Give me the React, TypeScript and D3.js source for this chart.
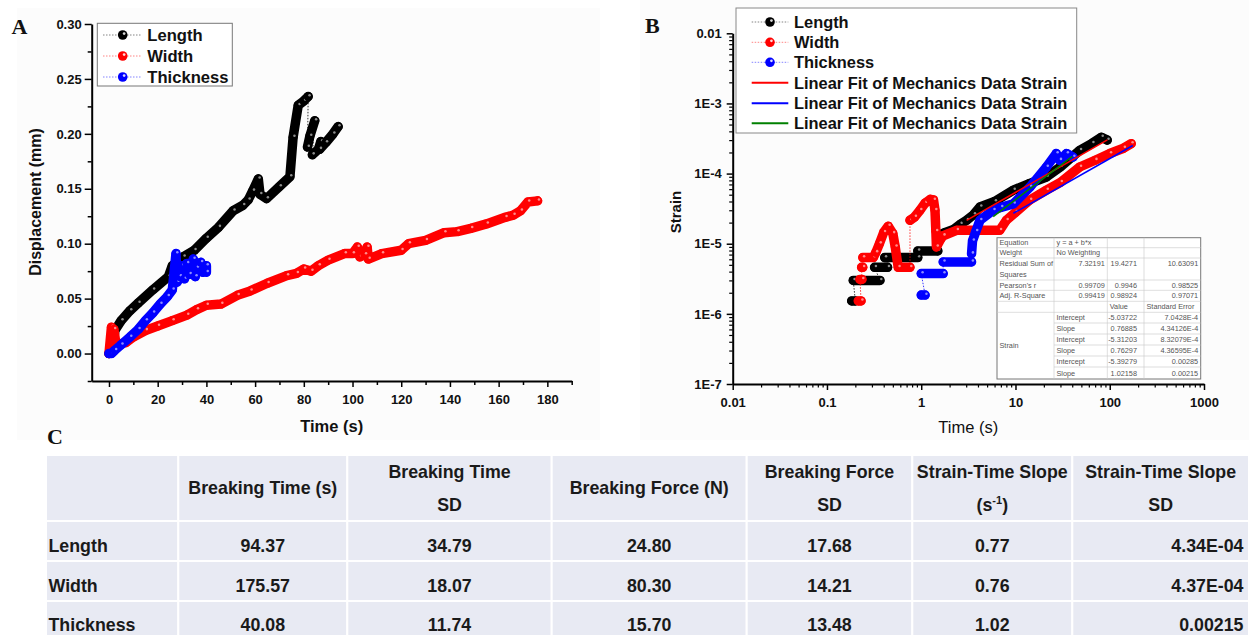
import * as d3 from "d3";
import { useEffect, useRef } from "react";

const SANS = "'Liberation Sans', Arial, sans-serif";
const SERIF = "'Liberation Serif', 'Times New Roman', serif";

type Pt = [number, number] | null;

const seriesNames = ["Length", "Width", "Thickness"];
const seriesColors = ["#000000", "#ff0000", "#0000ff"];
const fitColors = ["#ff0000", "#0000ff", "#008000"];

// panel A: time (s) vs displacement (mm); null = gap between bands
const dispLength: Pt[] = [
  [0, 0], [1.5, 0.004], [2.4, 0.021], [5, 0.03], [8.6, 0.039], [12, 0.046], [18, 0.058],
  [24.4, 0.07], [26, 0.08], [30.5, 0.088], [35, 0.094], [40, 0.105], [45, 0.115], [51, 0.13],
  [55, 0.135], [57.2, 0.14], [59, 0.148], [61.3, 0.159], [62, 0.145], [64.7, 0.141], [70, 0.152],
  [74.3, 0.161], [75.6, 0.197], [77.7, 0.226], [80, 0.23], [81.8, 0.234], null,
  [81.5, 0.188], [82.5, 0.198], [84.5, 0.212], null,
  [83.5, 0.181], [86, 0.186], [87, 0.193], [86.5, 0.186], [89, 0.192], [92, 0.2], [94.1, 0.2066],
];
const dispWidth: Pt[] = [
  [0, 0], [1, 0.024], [1.5, 0.004], [2, 0.022], [3, 0.007], [5, 0.009], [7, 0.01], [10, 0.015],
  [15, 0.021], [20, 0.025], [26, 0.03], [32, 0.035], [36, 0.04], [40, 0.044], [46, 0.045],
  [52.7, 0.053], [58, 0.057], [65, 0.064], [73, 0.071], [77, 0.073], [80, 0.077], [83, 0.075],
  [86, 0.08], [90, 0.085], [96.7, 0.091], [100, 0.091], [102, 0.097], [103, 0.088], [105, 0.09],
  [106, 0.097], [106.5, 0.086], [112, 0.091], [120, 0.094], [123, 0.1], [130, 0.103],
  [137.6, 0.11], [143, 0.111], [148.6, 0.114], [155, 0.118], [162.7, 0.124], [166, 0.126],
  [169, 0.13], [172, 0.138], [176, 0.139],
];
const dispThickness: Pt[] = [
  [0, 0], [1, 0], [2.4, 0.003], [5, 0.008], [8.6, 0.015], [12, 0.022], [15, 0.03], [18, 0.037],
  [21, 0.045], [24, 0.052], [26, 0.058], [27.5, 0.091], [28, 0.065], [29, 0.07], [30, 0.08],
  [31, 0.068], [32, 0.082], [33, 0.072], [34.6, 0.086], [35.4, 0.07], [36, 0.078], [37.7, 0.083],
  [38.5, 0.074], [40, 0.08], [40, 0.074],
];

// panel B: time (s) vs strain, log-log
const strainLength: Pt[] = [
  [0.183, 1.53e-6], [0.2, 1.53e-6], null,
  [0.19, 3.0e-6], [0.365, 3.0e-6], null,
  [0.32, 4.6e-6], [0.44, 4.6e-6], null,
  [0.41, 6.35e-6], [0.92, 6.35e-6], null,
  [0.92, 7.9e-6], [1.5, 7.9e-6], null,
  [1.5, 1.3e-5], [1.8, 1.45e-5], [2.2, 1.6e-5], [2.6, 1.9e-5], [3.03, 2.16e-5], [3.6, 2.6e-5],
  [4.2, 3.35e-5], [6, 4.0e-5], [9.5, 5.8e-5], [14, 7.2e-5], [21.3, 8.95e-5], [30, 1.25e-4],
  [48, 2.14e-4], [65, 2.7e-4], [81.5, 3.3e-4], [94, 3.0e-4],
];
const strainWidth: Pt[] = [
  [0.215, 1.53e-6], [0.23, 1.53e-6], null,
  [0.224, 3.1e-6], [0.235, 3.1e-6], null,
  [0.233, 4.6e-6], [0.24, 4.6e-6], null,
  [0.24, 6.35e-6], [0.31, 6.35e-6], [0.33, 7.5e-6], [0.36, 1.0e-5], [0.4, 1.45e-5],
  [0.447, 1.78e-5], [0.5, 1.4e-5], [0.53, 9e-6], [0.57, 4.6e-6], [0.76, 4.6e-6], null,
  [0.76, 2.16e-5], [0.85, 2.4e-5], [0.97, 3.0e-5], [1.1, 3.8e-5], [1.25, 4.3e-5], [1.35, 4.2e-5],
  [1.4, 3.0e-5], [1.43, 1.5e-5], [1.45, 9e-6], [1.6, 1.15e-5], [1.71, 1.3e-5], [2.37, 1.55e-5],
  [4, 1.55e-5], [6.8, 1.55e-5], [8, 2.16e-5], [10, 2.8e-5], [14.2, 4.2e-5], [21.3, 5.8e-5],
  [30, 7.5e-5], [48, 1.24e-4], [70, 1.55e-4], [100, 1.93e-4], [140, 2.3e-4], [169, 2.67e-4],
];
const strainThickness: Pt[] = [
  [1.0, 1.85e-6], [1.1, 1.85e-6], null,
  [1.0, 3.75e-6], [1.71, 3.75e-6], null,
  [1.71, 5.5e-6], [3.42, 5.5e-6], null,
  [3.42, 7.2e-6], [3.5, 1.1e-5], [3.8, 1.5e-5], [4.2, 2.16e-5], [5.8, 3.0e-5], [7, 3.3e-5],
  [9.5, 3.7e-5], [14.2, 6.4e-5], [21.3, 1.24e-4], [27.1, 1.93e-4], [29.4, 1.55e-4],
  [34.8, 1.93e-4], [40.8, 1.72e-4],
];

// linear fits (log10 strain = a + b * log10 time)
const fitIntercept = [-5.03722, -5.31203, -5.39279];
const fitSlope = [0.76885, 0.76297, 1.02158];
const fitStart = [3.03, 9.5, 5.8];
const fitEnd = [94.37, 175.57, 40.08];

// inset fit table
const fitStats = [
  ["Residual Sum of|Squares", "7.32191", "19.4271", "10.63091"],
  ["Pearson's r", "0.99709", "0.9946", "0.98525"],
  ["Adj. R-Square", "0.99419", "0.98924", "0.97071"],
];
const fitValue = ["-5.03722", "0.76885", "-5.31203", "0.76297", "-5.39279", "1.02158"];
const fitError = ["7.0428E-4", "4.34126E-4", "8.32079E-4", "4.36595E-4", "0.00285", "0.00215"];

// table C
const tableHeaders = [
  [""], ["Breaking Time (s)"], ["Breaking Time", "SD"], ["Breaking Force (N)"],
  ["Breaking Force", "SD"], ["Strain-Time Slope", "(s^-1)"], ["Strain-Time Slope", "SD"],
];
const breakingTime = ["94.37", "175.57", "40.08"];
const breakingTimeSD = ["34.79", "18.07", "11.74"];
const breakingForce = ["24.80", "80.30", "15.70"];
const breakingForceSD = ["17.68", "14.21", "13.48"];
const slope = ["0.77", "0.76", "1.02"];
const slopeSD = ["4.34E-04", "4.37E-04", "0.00215"];

const drawMarker = (g: any, x: number, y: number, color: string, r: number, hl = 0.85) => {
  g.append("circle").attr("cx", x).attr("cy", y).attr("r", r).attr("fill", color);
  g.append("circle").attr("cx", x + r * 0.3).attr("cy", y - r * 0.3).attr("r", r * 0.28)
    .attr("fill", "#fff").attr("opacity", hl);
};

const drawSeries = (g: any, data: Pt[], x: any, y: any, color: string) => {
  const pts = data.filter((d) => d !== null) as [number, number][];
  const band = d3.line<Pt>().defined((d) => d !== null)
    .x((d: any) => x(d[0])).y((d: any) => y(d[1]));
  g.append("path").attr("d", band(data)).attr("fill", "none").attr("stroke", color)
    .attr("stroke-width", 9.5).attr("stroke-linejoin", "round").attr("stroke-linecap", "round");
  const thin = d3.line<[number, number]>().x((d) => x(d[0])).y((d) => y(d[1]));
  g.append("path").attr("d", thin(pts)).attr("fill", "none").attr("stroke", color)
    .attr("stroke-width", 0.8).attr("stroke-dasharray", "1.5,1.5");
  pts.forEach((d) => drawMarker(g, x(d[0]), y(d[1]), color, 4.5, 0.55));
};

const styleAxis = (sel: any, size: number) => {
  sel.select(".domain").attr("stroke-width", 2);
  sel.selectAll(".tick line").attr("stroke-width", 1.5);
  sel.selectAll("text").attr("font-family", SANS).attr("font-weight", "bold")
    .attr("font-size", size).attr("fill", "#111");
};

const App = () => {
  const svgRef = useRef<SVGSVGElement>(null);

  useEffect(() => {
    const svg = d3.select(svgRef.current);
    svg.selectAll("*").remove();

    svg.append("rect").attr("x", 17).attr("y", 8).attr("width", 583).attr("height", 432).attr("fill", "#fcfcfc");
    svg.append("rect").attr("x", 640).attr("y", 0).attr("width", 609).attr("height", 440).attr("fill", "#fcfcfc");

    // ---------- Panel A ----------
    const xA = d3.scaleLinear().domain([-7.1, 190]).range([91.7, 571.7]);
    const yA = d3.scaleLinear().domain([-0.025, 0.3]).range([381, 24]);
    const gA = svg.append("g");

    const axA = gA.append("g").attr("transform", "translate(0,381)")
      .call(d3.axisBottom(xA).tickValues(d3.range(0, 181, 20)).tickSize(6).tickSizeOuter(0).tickPadding(8).tickFormat(d3.format("d")));
    styleAxis(axA, 13);
    gA.append("g").attr("transform", "translate(0,381)")
      .call(d3.axisBottom(xA).tickValues(d3.range(10, 191, 20)).tickSize(4).tickSizeOuter(0).tickFormat(() => ""))
      .call((s: any) => { s.select(".domain").remove(); s.selectAll("line").attr("stroke-width", 1.5); });
    const ayA = gA.append("g").attr("transform", "translate(91.7,0)")
      .call(d3.axisLeft(yA).tickValues(d3.range(0, 0.301, 0.05)).tickSize(7).tickSizeOuter(0).tickPadding(3).tickFormat(d3.format(".2f")));
    styleAxis(ayA, 13);
    gA.append("g").attr("transform", "translate(91.7,0)")
      .call(d3.axisLeft(yA).tickValues(d3.range(-0.025, 0.3, 0.05)).tickSize(4).tickSizeOuter(0).tickFormat(() => ""))
      .call((s: any) => { s.select(".domain").remove(); s.selectAll("line").attr("stroke-width", 1.5); });

    gA.append("text").attr("x", 331.7).attr("y", 432).attr("text-anchor", "middle")
      .attr("font-family", SANS).attr("font-weight", "bold").attr("font-size", 16.5).attr("fill", "#111").text("Time (s)");
    gA.append("text").attr("transform", "translate(41,202) rotate(-90)").attr("text-anchor", "middle")
      .attr("font-family", SANS).attr("font-weight", "bold").attr("font-size", 16).attr("fill", "#111").text("Displacement (mm)");

    [dispLength, dispWidth, dispThickness].forEach((data, i) => drawSeries(gA, data, xA, yA, seriesColors[i]));

    gA.append("rect").attr("x", 97.3).attr("y", 23.3).attr("width", 135).attr("height", 62.7)
      .attr("fill", "#fff").attr("stroke", "#777").attr("stroke-width", 1);
    [35, 56, 77].forEach((ly, i) => {
      gA.append("line").attr("x1", 103).attr("x2", 142).attr("y1", ly).attr("y2", ly)
        .attr("stroke", seriesColors[i]).attr("stroke-width", 0.8).attr("stroke-dasharray", "1.5,1.5").attr("opacity", 0.6);
      drawMarker(gA, 122.7, ly, seriesColors[i], 4.8);
      gA.append("text").attr("x", 147.3).attr("y", ly + 6).attr("font-family", SANS)
        .attr("font-weight", "bold").attr("font-size", 16.6).attr("fill", "#111").text(seriesNames[i]);
    });

    // ---------- Panel B ----------
    const xB = d3.scaleLog().domain([0.01, 1000]).range([732.7, 1204]);
    const yB = d3.scaleLog().domain([1e-7, 0.01]).range([384, 33.3]);
    const gB = svg.append("g");

    const fmtX = (d: any) => (d >= 1 ? String(d) : String(+d.toPrecision(1)));
    const fmtY = (d: any) => (d >= 0.01 ? "0.01" : "1E" + Math.round(Math.log10(d)));
    const axB = gB.append("g").attr("transform", "translate(0,384)")
      .call(d3.axisBottom(xB).tickValues([0.01, 0.1, 1, 10, 100, 1000]).tickSize(6).tickSizeOuter(0).tickPadding(8).tickFormat(fmtX));
    styleAxis(axB, 13);
    const ayB = gB.append("g").attr("transform", "translate(732.7,0)")
      .call(d3.axisLeft(yB).tickValues([1e-7, 1e-6, 1e-5, 1e-4, 1e-3, 1e-2]).tickSize(6).tickSizeOuter(0).tickPadding(5).tickFormat(fmtY));
    styleAxis(ayB, 13);
    const minorX: number[] = [];
    for (let e = -2; e < 3; e++) for (let k = 2; k < 10; k++) minorX.push(k * Math.pow(10, e));
    const minorY: number[] = [];
    for (let e = -7; e < -2; e++) for (let k = 2; k < 10; k++) minorY.push(k * Math.pow(10, e));
    gB.append("g").attr("transform", "translate(0,384)")
      .call(d3.axisBottom(xB).tickValues(minorX).tickSize(3.5).tickSizeOuter(0).tickFormat(() => ""))
      .call((s: any) => { s.select(".domain").remove(); s.selectAll("line").attr("stroke-width", 1.2); });
    gB.append("g").attr("transform", "translate(732.7,0)")
      .call(d3.axisLeft(yB).tickValues(minorY).tickSize(3.5).tickSizeOuter(0).tickFormat(() => ""))
      .call((s: any) => { s.select(".domain").remove(); s.selectAll("line").attr("stroke-width", 1.2); });

    gB.append("text").attr("x", 968.3).attr("y", 433).attr("text-anchor", "middle")
      .attr("font-family", SANS).attr("font-size", 16.5).attr("fill", "#111").text("Time (s)");
    gB.append("text").attr("transform", "translate(681,212) rotate(-90)").attr("text-anchor", "middle")
      .attr("font-family", SANS).attr("font-weight", "bold").attr("font-size", 15).attr("fill", "#111").text("Strain");

    [strainLength, strainWidth, strainThickness].forEach((data, i) => drawSeries(gB, data, xB, yB, seriesColors[i]));

    fitIntercept.forEach((a, i) => {
      const ends = [fitStart[i], fitEnd[i]].map((t) => [t, Math.pow(10, a + fitSlope[i] * Math.log10(t))] as [number, number]);
      gB.append("path").attr("d", d3.line<[number, number]>().x((d) => xB(d[0])).y((d) => yB(d[1]))(ends))
        .attr("stroke", fitColors[i]).attr("stroke-width", 1.6).attr("fill", "none");
    });

    // legend B
    gB.append("rect").attr("x", 736).attr("y", 8).attr("width", 340.7).attr("height", 125)
      .attr("fill", "#fff").attr("stroke", "#888").attr("stroke-width", 1);
    const legendLabels = [...seriesNames, "Linear Fit of Mechanics Data Strain", "Linear Fit of Mechanics Data Strain", "Linear Fit of Mechanics Data Strain"];
    [22, 42.3, 62.3, 82.7, 103.3, 123.3].forEach((ly, i) => {
      if (i < 3) {
        gB.append("line").attr("x1", 751.7).attr("x2", 788.3).attr("y1", ly).attr("y2", ly)
          .attr("stroke", seriesColors[i]).attr("stroke-width", 0.8).attr("stroke-dasharray", "1.5,1.5").attr("opacity", 0.6);
        drawMarker(gB, 770, ly, seriesColors[i], 4.8);
      } else {
        gB.append("line").attr("x1", 751.7).attr("x2", 788.3).attr("y1", ly).attr("y2", ly)
          .attr("stroke", fitColors[i - 3]).attr("stroke-width", 2);
      }
      gB.append("text").attr("x", 794).attr("y", ly + 6).attr("font-family", SANS)
        .attr("font-weight", "bold").attr("font-size", 16.4).attr("fill", "#111").text(legendLabels[i]);
    });

    // inset table
    const cx = [997, 1054, 1107.3, 1144, 1200.7];
    const ry = [237.7, 247.7, 258, 280, 290.3, 301.3, 312.3, 323, 334, 345, 356, 367, 379];
    const gt = gB.append("g").attr("font-family", SANS).attr("font-size", 7.3).attr("fill", "#555");
    gt.append("rect").attr("x", cx[0]).attr("y", ry[0]).attr("width", cx[4] - cx[0]).attr("height", ry[12] - ry[0])
      .attr("fill", "#fff").attr("stroke", "#777").attr("stroke-width", 1);
    ry.slice(1, 12).forEach((y, i) => {
      gt.append("line").attr("x1", i >= 6 ? cx[1] : cx[0]).attr("x2", cx[4]).attr("y1", y).attr("y2", y)
        .attr("stroke", "#c8c8c8").attr("stroke-width", 0.6);
    });
    cx.slice(1, 4).forEach((x) => {
      gt.append("line").attr("x1", x).attr("x2", x).attr("y1", ry[0]).attr("y2", ry[12])
        .attr("stroke", "#c8c8c8").attr("stroke-width", 0.6);
    });
    const mid = (r: number) => (ry[r] + ry[r + 1]) / 2 + 2.6;
    const cellL = (t: string, c: number, r: number) =>
      gt.append("text").attr("x", cx[c] + 2.5).attr("y", mid(r)).text(t);
    const cellR = (t: string, c: number, r: number) =>
      gt.append("text").attr("x", cx[c + 1] - (c === 2 ? 7 : 2.5)).attr("y", mid(r)).attr("text-anchor", "end").text(t);
    cellL("Equation", 0, 0); cellL("y = a + b*x", 1, 0);
    cellL("Weight", 0, 1); cellL("No Weighting", 1, 1);
    fitStats.forEach((row, k) => {
      const r = k + 2;
      if (row[0].includes("|")) {
        const [l1, l2] = row[0].split("|");
        gt.append("text").attr("x", cx[0] + 2.5).attr("y", ry[r] + 8).text(l1);
        gt.append("text").attr("x", cx[0] + 2.5).attr("y", ry[r] + 18.5).text(l2);
        [1, 2, 3].forEach((c) => gt.append("text").attr("x", cx[c + 1] - (c === 2 ? 7 : 2.5)).attr("y", ry[r] + 8).attr("text-anchor", "end").text(row[c]));
      } else {
        cellL(row[0], 0, r);
        [1, 2, 3].forEach((c) => cellR(row[c], c, r));
      }
    });
    cellL("Value", 2, 5); cellL("Standard Error", 3, 5);
    gt.append("text").attr("x", cx[0] + 2.5).attr("y", (ry[6] + ry[12]) / 2 + 2.6).text("Strain");
    fitValue.forEach((v, k) => {
      cellL(k % 2 === 0 ? "Intercept" : "Slope", 1, k + 6);
      cellR(v, 2, k + 6);
      cellR(fitError[k], 3, k + 6);
    });

    // ---------- Table C ----------
    const colX = [46, 178.3, 347.3, 551.7, 746.7, 912.3, 1072.3, 1249];
    const rowY = [455, 521, 561, 601, 641];
    const gC = svg.append("g").attr("font-family", SANS).attr("font-weight", "bold").attr("font-size", 17.8).attr("fill", "#1a1a1a");
    for (let r = 0; r < 4; r++) {
      for (let c = 0; c < 7; c++) {
        gC.append("rect").attr("x", colX[c]).attr("y", rowY[r]).attr("width", colX[c + 1] - colX[c])
          .attr("height", rowY[r + 1] - rowY[r]).attr("fill", "#e8eaf3").attr("stroke", "#fff").attr("stroke-width", 2);
      }
    }
    tableHeaders.forEach((lines, c) => {
      const xm = (colX[c] + colX[c + 1]) / 2;
      const ys = lines.length === 1 ? [494] : [478, 511];
      lines.forEach((line, k) => {
        const t = gC.append("text").attr("x", xm).attr("y", ys[k]).attr("text-anchor", "middle");
        if (line === "(s^-1)") {
          t.append("tspan").text("(s");
          t.append("tspan").attr("dy", -7).attr("font-size", 11).text("-1");
          t.append("tspan").attr("dy", 7).text(")");
        } else {
          t.text(line);
        }
      });
    });
    const columns = [breakingTime, breakingTimeSD, breakingForce, breakingForceSD, slope, slopeSD];
    const rowBase = [552, 592, 631];
    seriesNames.forEach((name, r) => {
      gC.append("text").attr("x", 48.5).attr("y", rowBase[r]).text(name);
      columns.forEach((col, c) => {
        const last = c === columns.length - 1;
        gC.append("text").attr("x", last ? 1243.5 : (colX[c + 1] + colX[c + 2]) / 2).attr("y", rowBase[r])
          .attr("text-anchor", last ? "end" : "middle").text(col[r]);
      });
    });

    // panel letters
    const letters: [string, number, number][] = [["A", 11.5, 33.5], ["B", 645, 33], ["C", 47, 444]];
    letters.forEach(([t, x, y]) => {
      svg.append("text").attr("x", x).attr("y", y).attr("font-family", SERIF).attr("font-weight", "bold")
        .attr("font-size", 22).attr("fill", "#111").text(t);
    });
  }, []);

  return (
    <div style={{ position: "absolute", left: 0, top: 0 }}>
      <svg ref={svgRef} width={1249} height={635} style={{ display: "block", background: "#fff" }} />
    </div>
  );
};

export default App;
